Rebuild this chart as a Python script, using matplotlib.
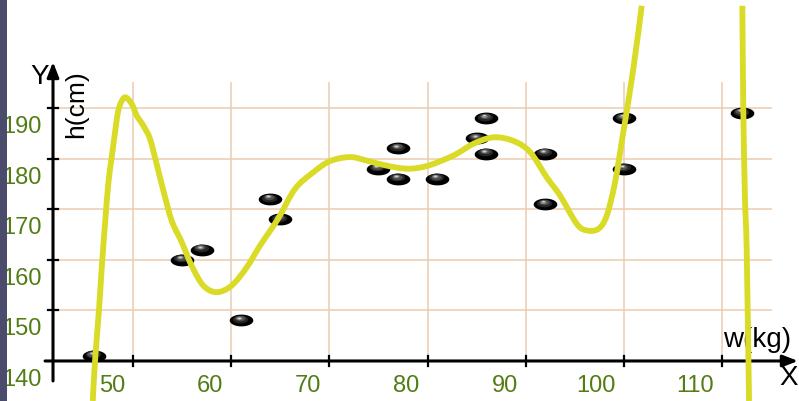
import matplotlib
matplotlib.use("Agg")
import numpy as np
import matplotlib.pyplot as plt
import matplotlib.patches as patches
from matplotlib.path import Path
from matplotlib.transforms import ScaledTranslation

plt.rcParams['font.family'] = ['Liberation Sans', 'DejaVu Sans']

# measured weight / height pairs
weights = [46, 55, 57, 61, 64, 65, 75, 77, 77, 81, 85, 86, 86, 92, 92, 100, 100, 112]
heights = [141, 160, 162, 148, 172, 168, 178, 182, 176, 176, 184, 188, 181, 181, 171, 188, 178, 189]

# fitted curve, sampled; nan splits the part that runs off the top
fit_w = [45.90, 46.13, 46.54, 46.84, 47.15, 47.48, 47.83, 48.24, 48.50, 48.85,
         49.26, 49.87, 50.38, 51.05, 51.73, 52.41, 53.09, 53.94, 54.96, 55.98,
         57.16, 58.53, 60.05, 61.58, 62.94, 64.77, 66.50, 68.37, 70.07, 72.10,
         73.81, 75.84, 78.01, 80.05, 82.63, 84.66, 86.70, 88.74, 90.44, 92.14,
         93.50, 95.20, 96.22, 97.40, 98.25, 99.10, 99.94, 100.96, 101.82,
         np.nan,
         112.07, 112.17, 112.34, 112.51, 112.75]
fit_h = [132.1, 140.0, 150.3, 159.2, 167.1, 175.0, 180.3, 186.2, 189.5, 191.4,
         192.1, 190.8, 188.5, 186.5, 183.9, 178.9, 173.7, 167.7, 163.5, 158.8,
         154.9, 153.6, 154.9, 158.5, 162.8, 168.1, 174.0, 177.3, 179.5, 180.3,
         179.6, 178.6, 178.0, 178.6, 180.6, 182.9, 184.2, 183.5, 181.3, 176.3,
         172.7, 167.1, 165.8, 166.1, 168.7, 175.3, 185.2, 197.7, 210.2,
         np.nan,
         210.2, 189.2, 172.0, 162.1, 132.1]

x_ticks = [50, 60, 70, 80, 90, 100, 110]
y_ticks = [150, 160, 170, 180, 190]
y_labels = [140, 150, 160, 170, 180, 190]

GRID = '#ecccb0'
LABEL = '#527c14'
CURVE = '#d9db27'

fig = plt.figure(figsize=(7.99, 4.02), dpi=100)
ax = fig.add_axes([0, 0, 1, 1])
ax.set_xlim(36.45, 117.84)
ax.set_ylim(132.09, 211.54)
ax.set_axis_off()


def shift(dx, dy):
    # offset in pixels from a data point
    return ax.transData + ScaledTranslation(dx / 100, dy / 100, fig.dpi_scale_trans)


def smooth_path(xs, ys):
    # Catmull-Rom through the samples, as cubic Bezier pieces; nan starts a new piece
    xs, ys = np.asarray(xs, float), np.asarray(ys, float)
    verts, codes = [], []
    breaks = np.where(np.isnan(xs))[0]
    starts = np.r_[0, breaks + 1]
    ends = np.r_[breaks, len(xs)]
    for s, e in zip(starts, ends):
        p = np.column_stack([xs[s:e], ys[s:e]])
        q = np.vstack([p[0], p, p[-1]])
        verts.append(p[0]); codes.append(Path.MOVETO)
        for i in range(1, len(q) - 2):
            c1 = q[i] + (q[i + 1] - q[i - 1]) / 6
            c2 = q[i + 1] - (q[i + 2] - q[i]) / 6
            verts += [c1, c2, q[i + 1]]
            codes += [Path.CURVE4] * 3
    return Path(verts, codes)


ox, oy = 41.85, 140  # where the two axes cross

# grid
ax.hlines(y_ticks, ox, 115.1, colors=GRID, lw=1.1, zorder=1)
ax.vlines(x_ticks, oy, 195.1, colors=GRID, lw=1.1, zorder=1)

# axes with arrow heads
arrow = dict(arrowstyle='-|>,head_length=0.9,head_width=0.35', mutation_scale=10,
             lw=2.2, color='black', shrinkA=0, shrinkB=0)
ax.annotate('', xy=(117.74, oy), xytext=(41.04, oy), arrowprops=arrow, zorder=3)
ax.annotate('', xy=(ox, 199.1), xytext=(ox, 136.05), arrowprops=arrow, zorder=3)
for x in x_ticks:
    ax.plot([x, x], [oy - 1.0, oy + 1.0], color='black', lw=1.6, zorder=3)
for y in y_ticks:
    ax.plot([ox - 0.51, ox + 0.51], [y, y], color='black', lw=1.6, zorder=3)

# tick labels
for x in x_ticks:
    ax.text(x, oy, str(x), transform=shift(-8, -30), ha='right', va='baseline',
            fontsize=17, color=LABEL)
for y in y_labels:
    ax.text(ox, y, str(y), transform=shift(-11, -24), ha='right', va='baseline',
            fontsize=17, color=LABEL)

# axis names
ax.text(ox, 199.1, 'Y', transform=shift(-13, -14), ha='center', va='center', fontsize=20)
ax.text(ox, 199.1, 'h(cm)', transform=shift(23, -41), ha='center', va='center',
        fontsize=19, rotation=90)
ax.text(117.74, oy, 'X', transform=shift(-9, -16), ha='center', va='center', fontsize=20)
ax.text(117.74, oy, 'w(kg)', transform=shift(-41, 22), ha='center', va='center', fontsize=20)

# glossy oval markers
t = np.linspace(0, 2 * np.pi, 60)
oval = Path(np.column_stack([np.cos(t), 0.5 * np.sin(t)]))
layers = [(17.0, 0, 0, '#000000'),
          (11.0, -1, 1.5, '#262626'),
          (7.5, -1.5, 2.2, '#4f4f4f'),
          (4.5, -2, 2.6, '#8a8a8a'),
          (2.2, -2, 2.8, '#cfcfcf')]
for size, dx, dy, col in layers:
    ax.plot(weights, heights, linestyle='none', marker=oval, markersize=size,
            markerfacecolor=col, markeredgecolor='none', transform=shift(dx, dy), zorder=4)

# fitted curve
ax.add_patch(patches.PathPatch(smooth_path(fit_w, fit_h), facecolor='none', edgecolor=CURVE,
                               lw=4.2, capstyle='butt', joinstyle='round', zorder=5))

# dark strip on the left edge
fig.patches.append(patches.Rectangle((0, 0), 7.3 / 799, 1, transform=fig.transFigure,
                                     facecolor='#4b4b6b', edgecolor='none', zorder=10))

fig.savefig('out.png', dpi=100)
